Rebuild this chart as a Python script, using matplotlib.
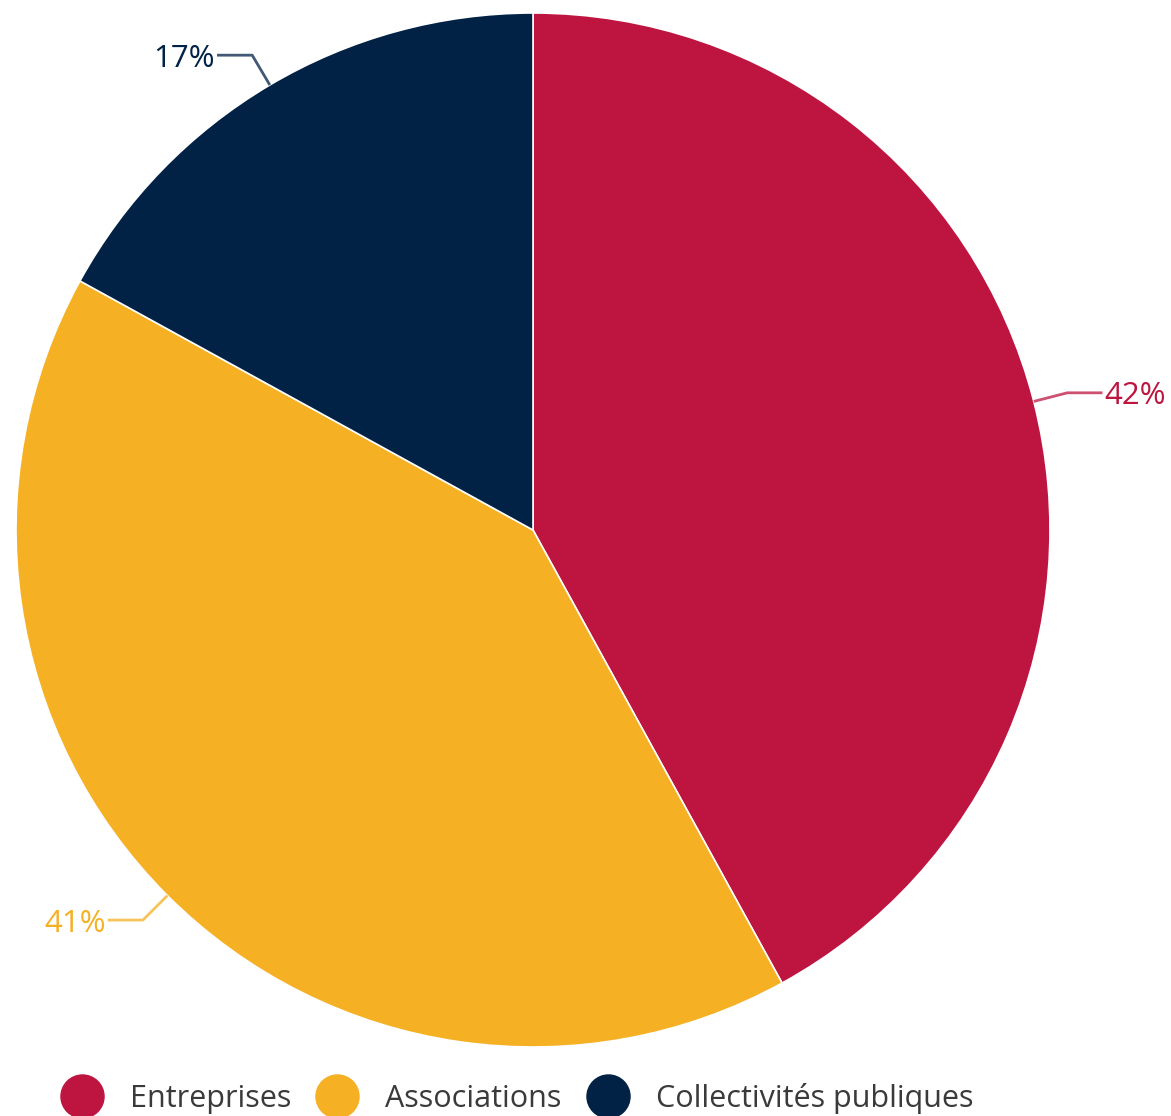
import matplotlib
matplotlib.use("Agg")
import matplotlib.pyplot as plt
import numpy as np

categories = ["Entreprises", "Associations", "Collectivités publiques"]
values = [42, 41, 17]
labels = ["42%", "41%", "17%"]
colors = ["#BD1540", "#F5B024", "#012245"]

W, H = 1171, 1116
fig = plt.figure(figsize=(W / 100, H / 100), dpi=100)
ax = fig.add_axes([0, 0, 1, 1])
cx, cy, R = 533, 530, 517

wedges, _ = ax.pie(values, colors=colors, startangle=90, counterclock=False,
                   radius=1.0, wedgeprops=dict(edgecolor="white", linewidth=1.2))
ax.set_xlim(-cx / R, (W - cx) / R)
ax.set_ylim((cy - H) / R, cy / R)
ax.set_aspect("auto")
ax.axis("off")


def px(xp, yp):
    return (xp - cx) / R, (cy - yp) / R


for w, lab, col in zip(wedges, labels, colors):
    mid = (w.theta1 + w.theta2) / 2.0
    a = np.deg2rad(mid)
    x0, y0 = np.cos(a), np.sin(a)
    x1, y1 = 1.067 * np.cos(a), 1.067 * np.sin(a)
    side = 1 if x0 > 0 else -1
    x2 = x1 + side * 0.068
    ax.plot([x0, x1, x2], [y0, y1, y1], color=col, lw=2, alpha=0.75,
            solid_capstyle="butt", clip_on=False)
    ax.text(x2 + side * 0.004, y1, lab, color=col, fontsize=22.5,
            family="Open Sans", ha="left" if side > 0 else "right",
            va="center_baseline")

# legend, laid out manually
renderer = fig.canvas.get_renderer()
xcur = 82
for cat, col in zip(categories, colors):
    mx, my = px(xcur, 1096)
    ax.plot([mx], [my], marker="o", markersize=31, color=col,
            linestyle="none", clip_on=False)
    tx, ty = px(xcur + 48, 1107)
    t = ax.text(tx, ty, cat, fontsize=22, family="Open Sans",
                color="#3a3a3a", ha="left", va="baseline")
    bb = t.get_window_extent(renderer=renderer)
    xcur = bb.x1 + 46

fig.savefig("out.png", dpi=100)
